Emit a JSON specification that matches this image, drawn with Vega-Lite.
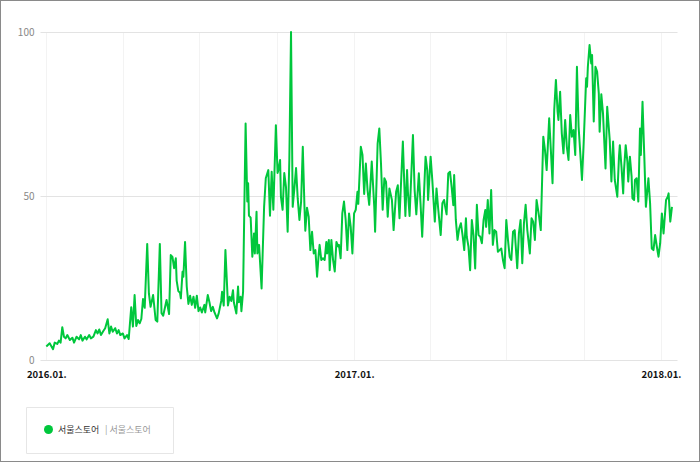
{
  "$schema": "https://vega.github.io/schema/vega-lite/v6.json",
  "width": 700,
  "height": 462,
  "autosize": {"type": "none"},
  "padding": 0,
  "background": "#ffffff",
  "config": {
    "font": "Noto Sans CJK KR",
    "view": {"stroke": "#8a8a8a", "strokeWidth": 2}
  },
  "data": {
    "values": [
      {"date": "2016-01-01", "value": 4.1}, {"date": "2016-01-05", "value": 5.1}, {"date": "2016-01-09", "value": 3.3},
      {"date": "2016-01-11", "value": 5.3}, {"date": "2016-01-14", "value": 4.9}, {"date": "2016-01-16", "value": 5.9},
      {"date": "2016-01-18", "value": 5.3}, {"date": "2016-01-20", "value": 10}, {"date": "2016-01-22", "value": 7.1},
      {"date": "2016-01-24", "value": 6.6}, {"date": "2016-01-26", "value": 7.6}, {"date": "2016-01-29", "value": 6.1},
      {"date": "2016-02-01", "value": 6.8}, {"date": "2016-02-03", "value": 5.3}, {"date": "2016-02-06", "value": 7.1},
      {"date": "2016-02-09", "value": 6.3}, {"date": "2016-02-11", "value": 7.6}, {"date": "2016-02-13", "value": 5.9},
      {"date": "2016-02-16", "value": 7.1}, {"date": "2016-02-18", "value": 6.3}, {"date": "2016-02-21", "value": 7.6},
      {"date": "2016-02-23", "value": 6.6}, {"date": "2016-02-26", "value": 7.1}, {"date": "2016-02-29", "value": 9.1},
      {"date": "2016-03-02", "value": 8.1}, {"date": "2016-03-04", "value": 9.3}, {"date": "2016-03-06", "value": 7.6},
      {"date": "2016-03-09", "value": 8.9}, {"date": "2016-03-11", "value": 9.7}, {"date": "2016-03-14", "value": 12.4},
      {"date": "2016-03-16", "value": 8.1}, {"date": "2016-03-18", "value": 10.2}, {"date": "2016-03-20", "value": 8.6},
      {"date": "2016-03-23", "value": 9.7}, {"date": "2016-03-25", "value": 8.1}, {"date": "2016-03-27", "value": 9.1},
      {"date": "2016-03-29", "value": 7.6}, {"date": "2016-04-01", "value": 8.1}, {"date": "2016-04-03", "value": 6.6},
      {"date": "2016-04-06", "value": 7.6}, {"date": "2016-04-08", "value": 6.4}, {"date": "2016-04-11", "value": 16.1},
      {"date": "2016-04-13", "value": 10.2}, {"date": "2016-04-15", "value": 19.8}, {"date": "2016-04-17", "value": 10.4},
      {"date": "2016-04-19", "value": 12.2}, {"date": "2016-04-21", "value": 11.2}, {"date": "2016-04-23", "value": 12.5},
      {"date": "2016-04-25", "value": 18.6}, {"date": "2016-04-27", "value": 15.9}, {"date": "2016-04-30", "value": 35.4},
      {"date": "2016-05-02", "value": 20.3}, {"date": "2016-05-04", "value": 16.2}, {"date": "2016-05-07", "value": 19.8},
      {"date": "2016-05-08", "value": 17.3}, {"date": "2016-05-10", "value": 12.2}, {"date": "2016-05-12", "value": 11.7},
      {"date": "2016-05-15", "value": 35.4}, {"date": "2016-05-17", "value": 14.3}, {"date": "2016-05-19", "value": 13.5},
      {"date": "2016-05-23", "value": 18.3}, {"date": "2016-05-26", "value": 14}, {"date": "2016-05-28", "value": 32},
      {"date": "2016-05-30", "value": 31.4}, {"date": "2016-06-01", "value": 28}, {"date": "2016-06-03", "value": 31},
      {"date": "2016-06-04", "value": 24.2}, {"date": "2016-06-06", "value": 21}, {"date": "2016-06-08", "value": 20.5},
      {"date": "2016-06-09", "value": 18.8}, {"date": "2016-06-11", "value": 26.9}, {"date": "2016-06-12", "value": 25.4},
      {"date": "2016-06-14", "value": 36}, {"date": "2016-06-16", "value": 22.4}, {"date": "2016-06-18", "value": 17.1},
      {"date": "2016-06-20", "value": 19.6}, {"date": "2016-06-22", "value": 16.8}, {"date": "2016-06-24", "value": 19.3},
      {"date": "2016-06-26", "value": 15.9}, {"date": "2016-06-28", "value": 19.6}, {"date": "2016-06-30", "value": 14.9},
      {"date": "2016-07-02", "value": 16}, {"date": "2016-07-04", "value": 14.5}, {"date": "2016-07-07", "value": 16.8},
      {"date": "2016-07-08", "value": 14.5}, {"date": "2016-07-11", "value": 19.8}, {"date": "2016-07-13", "value": 17.6},
      {"date": "2016-07-15", "value": 14.9}, {"date": "2016-07-17", "value": 16.2}, {"date": "2016-07-19", "value": 14.5},
      {"date": "2016-07-22", "value": 12.7}, {"date": "2016-07-24", "value": 14.2}, {"date": "2016-07-27", "value": 18},
      {"date": "2016-07-28", "value": 20.8}, {"date": "2016-07-30", "value": 16.6}, {"date": "2016-08-01", "value": 33.5},
      {"date": "2016-08-03", "value": 22.4}, {"date": "2016-08-04", "value": 16.6}, {"date": "2016-08-06", "value": 19.3},
      {"date": "2016-08-08", "value": 18}, {"date": "2016-08-10", "value": 21.3}, {"date": "2016-08-11", "value": 17.6},
      {"date": "2016-08-14", "value": 14.2}, {"date": "2016-08-16", "value": 22.4}, {"date": "2016-08-17", "value": 17.6},
      {"date": "2016-08-19", "value": 19.3}, {"date": "2016-08-20", "value": 14.9}, {"date": "2016-08-22", "value": 20.8},
      {"date": "2016-08-25", "value": 72.1}, {"date": "2016-08-27", "value": 48.3}, {"date": "2016-08-28", "value": 53.9},
      {"date": "2016-08-29", "value": 44}, {"date": "2016-08-31", "value": 43.4}, {"date": "2016-09-02", "value": 31.5},
      {"date": "2016-09-04", "value": 38.6}, {"date": "2016-09-05", "value": 32.5}, {"date": "2016-09-07", "value": 45.2},
      {"date": "2016-09-08", "value": 32.5}, {"date": "2016-09-10", "value": 35.1}, {"date": "2016-09-13", "value": 21.8},
      {"date": "2016-09-16", "value": 46.7}, {"date": "2016-09-18", "value": 55.4}, {"date": "2016-09-21", "value": 57.9},
      {"date": "2016-09-23", "value": 44}, {"date": "2016-09-25", "value": 57.4}, {"date": "2016-09-27", "value": 45.8},
      {"date": "2016-09-30", "value": 71.6}, {"date": "2016-10-02", "value": 57}, {"date": "2016-10-03", "value": 57.9},
      {"date": "2016-10-05", "value": 61}, {"date": "2016-10-06", "value": 49.8}, {"date": "2016-10-08", "value": 45.8},
      {"date": "2016-10-10", "value": 57}, {"date": "2016-10-12", "value": 52.8}, {"date": "2016-10-14", "value": 39.1},
      {"date": "2016-10-16", "value": 61}, {"date": "2016-10-18", "value": 100}, {"date": "2016-10-20", "value": 46.7},
      {"date": "2016-10-22", "value": 52.3}, {"date": "2016-10-24", "value": 58.5}, {"date": "2016-10-26", "value": 49.1},
      {"date": "2016-10-28", "value": 42.7}, {"date": "2016-10-30", "value": 48.3}, {"date": "2016-11-01", "value": 65},
      {"date": "2016-11-03", "value": 46.7}, {"date": "2016-11-04", "value": 39.4}, {"date": "2016-11-06", "value": 46.4},
      {"date": "2016-11-08", "value": 43.7}, {"date": "2016-11-10", "value": 33.5}, {"date": "2016-11-12", "value": 39.1},
      {"date": "2016-11-14", "value": 32.5}, {"date": "2016-11-16", "value": 33.5}, {"date": "2016-11-18", "value": 25.4},
      {"date": "2016-11-20", "value": 32.5}, {"date": "2016-11-21", "value": 35.1}, {"date": "2016-11-23", "value": 30.5},
      {"date": "2016-11-25", "value": 31}, {"date": "2016-11-27", "value": 30.5}, {"date": "2016-11-29", "value": 36},
      {"date": "2016-11-30", "value": 32.5}, {"date": "2016-12-02", "value": 36.6}, {"date": "2016-12-03", "value": 27.4},
      {"date": "2016-12-05", "value": 36.6}, {"date": "2016-12-07", "value": 30.5}, {"date": "2016-12-09", "value": 27},
      {"date": "2016-12-11", "value": 36}, {"date": "2016-12-13", "value": 34.6}, {"date": "2016-12-14", "value": 35.1},
      {"date": "2016-12-16", "value": 31}, {"date": "2016-12-18", "value": 44.7}, {"date": "2016-12-20", "value": 48.3},
      {"date": "2016-12-22", "value": 42.7}, {"date": "2016-12-24", "value": 33.5}, {"date": "2016-12-26", "value": 44.7},
      {"date": "2016-12-28", "value": 40.6}, {"date": "2016-12-30", "value": 32.5}, {"date": "2017-01-01", "value": 44.7},
      {"date": "2017-01-03", "value": 45.8}, {"date": "2017-01-05", "value": 51.3}, {"date": "2017-01-06", "value": 47.6},
      {"date": "2017-01-09", "value": 65}, {"date": "2017-01-11", "value": 62.5}, {"date": "2017-01-13", "value": 50.6},
      {"date": "2017-01-15", "value": 59.9}, {"date": "2017-01-17", "value": 51.8}, {"date": "2017-01-19", "value": 47.3},
      {"date": "2017-01-21", "value": 56}, {"date": "2017-01-22", "value": 60.5}, {"date": "2017-01-25", "value": 46.7},
      {"date": "2017-01-26", "value": 39.1}, {"date": "2017-01-29", "value": 66}, {"date": "2017-01-31", "value": 70.6},
      {"date": "2017-02-02", "value": 59.9}, {"date": "2017-02-04", "value": 45.8}, {"date": "2017-02-06", "value": 55.4},
      {"date": "2017-02-08", "value": 54.3}, {"date": "2017-02-10", "value": 43.7}, {"date": "2017-02-12", "value": 52.3},
      {"date": "2017-02-15", "value": 48.8}, {"date": "2017-02-17", "value": 39.6}, {"date": "2017-02-20", "value": 51.3},
      {"date": "2017-02-22", "value": 53.3}, {"date": "2017-02-24", "value": 43.2}, {"date": "2017-02-28", "value": 66.6},
      {"date": "2017-03-03", "value": 43.9}, {"date": "2017-03-05", "value": 57.9}, {"date": "2017-03-06", "value": 51.3},
      {"date": "2017-03-08", "value": 43.9}, {"date": "2017-03-12", "value": 68.6}, {"date": "2017-03-14", "value": 51.8},
      {"date": "2017-03-16", "value": 44.4}, {"date": "2017-03-19", "value": 56.9}, {"date": "2017-03-21", "value": 47.8},
      {"date": "2017-03-23", "value": 37.6}, {"date": "2017-03-27", "value": 62}, {"date": "2017-03-29", "value": 57.9},
      {"date": "2017-03-30", "value": 48.8}, {"date": "2017-04-02", "value": 62}, {"date": "2017-04-04", "value": 54.9},
      {"date": "2017-04-07", "value": 42.2}, {"date": "2017-04-09", "value": 52.3}, {"date": "2017-04-11", "value": 46.2},
      {"date": "2017-04-14", "value": 38.1}, {"date": "2017-04-16", "value": 47.8}, {"date": "2017-04-18", "value": 48.8},
      {"date": "2017-04-19", "value": 47.2}, {"date": "2017-04-21", "value": 44.4}, {"date": "2017-04-23", "value": 56.9},
      {"date": "2017-04-25", "value": 57.4}, {"date": "2017-04-27", "value": 52.8}, {"date": "2017-04-29", "value": 47.2},
      {"date": "2017-04-30", "value": 56.4}, {"date": "2017-05-02", "value": 42.7}, {"date": "2017-05-04", "value": 36.6},
      {"date": "2017-05-06", "value": 40.1}, {"date": "2017-05-08", "value": 41.7}, {"date": "2017-05-10", "value": 38.1},
      {"date": "2017-05-12", "value": 33.5}, {"date": "2017-05-14", "value": 43.2}, {"date": "2017-05-15", "value": 37.6},
      {"date": "2017-05-17", "value": 34.6}, {"date": "2017-05-19", "value": 27.4}, {"date": "2017-05-21", "value": 42.7},
      {"date": "2017-05-23", "value": 38.1}, {"date": "2017-05-25", "value": 27.9}, {"date": "2017-05-27", "value": 47.3},
      {"date": "2017-05-29", "value": 38.1}, {"date": "2017-05-31", "value": 37.6}, {"date": "2017-06-02", "value": 35.6},
      {"date": "2017-06-04", "value": 42.7}, {"date": "2017-06-06", "value": 45.7}, {"date": "2017-06-07", "value": 40.6},
      {"date": "2017-06-09", "value": 48.8}, {"date": "2017-06-11", "value": 38.6}, {"date": "2017-06-13", "value": 51.8},
      {"date": "2017-06-15", "value": 35.1}, {"date": "2017-06-17", "value": 39.6}, {"date": "2017-06-19", "value": 39.1},
      {"date": "2017-06-21", "value": 33}, {"date": "2017-06-23", "value": 33.5}, {"date": "2017-06-25", "value": 34},
      {"date": "2017-06-27", "value": 30.5}, {"date": "2017-06-29", "value": 28}, {"date": "2017-07-01", "value": 42.7},
      {"date": "2017-07-03", "value": 36.6}, {"date": "2017-07-05", "value": 31.5}, {"date": "2017-07-07", "value": 30.5},
      {"date": "2017-07-09", "value": 39.1}, {"date": "2017-07-11", "value": 39.6}, {"date": "2017-07-12", "value": 35.6},
      {"date": "2017-07-14", "value": 28}, {"date": "2017-07-16", "value": 38.6}, {"date": "2017-07-18", "value": 42.7},
      {"date": "2017-07-20", "value": 29.5}, {"date": "2017-07-22", "value": 41.7}, {"date": "2017-07-24", "value": 47.3},
      {"date": "2017-07-26", "value": 39.6}, {"date": "2017-07-29", "value": 32.5}, {"date": "2017-07-31", "value": 43.2},
      {"date": "2017-08-02", "value": 42.2}, {"date": "2017-08-04", "value": 36.6}, {"date": "2017-08-06", "value": 48.8},
      {"date": "2017-08-09", "value": 43.7}, {"date": "2017-08-11", "value": 39.6}, {"date": "2017-08-14", "value": 68.1},
      {"date": "2017-08-16", "value": 64}, {"date": "2017-08-18", "value": 57.9}, {"date": "2017-08-21", "value": 73.7},
      {"date": "2017-08-23", "value": 64}, {"date": "2017-08-25", "value": 53.9}, {"date": "2017-08-27", "value": 76.2},
      {"date": "2017-08-29", "value": 85.4}, {"date": "2017-08-31", "value": 75.7}, {"date": "2017-09-01", "value": 73.2},
      {"date": "2017-09-03", "value": 81.8}, {"date": "2017-09-05", "value": 69.1}, {"date": "2017-09-07", "value": 63},
      {"date": "2017-09-09", "value": 73.2}, {"date": "2017-09-11", "value": 65}, {"date": "2017-09-13", "value": 61},
      {"date": "2017-09-15", "value": 74.7}, {"date": "2017-09-17", "value": 68.1}, {"date": "2017-09-19", "value": 70.1},
      {"date": "2017-09-21", "value": 62.5}, {"date": "2017-09-23", "value": 89.4}, {"date": "2017-09-25", "value": 71.1},
      {"date": "2017-09-29", "value": 54.9}, {"date": "2017-10-01", "value": 66.1}, {"date": "2017-10-04", "value": 85.9},
      {"date": "2017-10-05", "value": 83.3}, {"date": "2017-10-06", "value": 89.4}, {"date": "2017-10-08", "value": 96},
      {"date": "2017-10-10", "value": 90.4}, {"date": "2017-10-11", "value": 93}, {"date": "2017-10-13", "value": 72.7},
      {"date": "2017-10-15", "value": 89.4}, {"date": "2017-10-17", "value": 87.9}, {"date": "2017-10-19", "value": 81.3},
      {"date": "2017-10-20", "value": 69.6}, {"date": "2017-10-22", "value": 81}, {"date": "2017-10-24", "value": 75.2},
      {"date": "2017-10-27", "value": 58.4}, {"date": "2017-10-29", "value": 77.2}, {"date": "2017-11-01", "value": 67.1},
      {"date": "2017-11-03", "value": 54.4}, {"date": "2017-11-05", "value": 66.6}, {"date": "2017-11-07", "value": 54.9},
      {"date": "2017-11-10", "value": 49.8}, {"date": "2017-11-12", "value": 62}, {"date": "2017-11-13", "value": 65.5},
      {"date": "2017-11-15", "value": 58.9}, {"date": "2017-11-17", "value": 50.8}, {"date": "2017-11-18", "value": 57.9},
      {"date": "2017-11-20", "value": 65.5}, {"date": "2017-11-22", "value": 60.5}, {"date": "2017-11-23", "value": 54.4},
      {"date": "2017-11-25", "value": 62}, {"date": "2017-11-27", "value": 56}, {"date": "2017-11-28", "value": 49.3},
      {"date": "2017-11-30", "value": 48.8}, {"date": "2017-12-01", "value": 54.9}, {"date": "2017-12-03", "value": 55.4},
      {"date": "2017-12-05", "value": 48.3}, {"date": "2017-12-07", "value": 70.6}, {"date": "2017-12-08", "value": 62.5},
      {"date": "2017-12-10", "value": 78.7}, {"date": "2017-12-12", "value": 63}, {"date": "2017-12-14", "value": 46.7},
      {"date": "2017-12-17", "value": 55.4}, {"date": "2017-12-19", "value": 47.8}, {"date": "2017-12-21", "value": 34},
      {"date": "2017-12-23", "value": 33.5}, {"date": "2017-12-25", "value": 38.1}, {"date": "2017-12-27", "value": 34.6},
      {"date": "2017-12-29", "value": 31.5}, {"date": "2017-12-31", "value": 35.6}, {"date": "2018-01-02", "value": 44.7},
      {"date": "2018-01-04", "value": 38.6}, {"date": "2018-01-07", "value": 48.8}, {"date": "2018-01-09", "value": 49.8},
      {"date": "2018-01-10", "value": 50.8}, {"date": "2018-01-12", "value": 42.2}, {"date": "2018-01-14", "value": 46.7}
    ]
  },
  "mark": {"type": "line", "strokeWidth": 2, "strokeJoin": "round"},
  "encoding": {
    "x": {
      "field": "date",
      "type": "temporal",
      "scale": {
        "type": "utc",
        "domain": [
          {"year": 2015, "month": 12, "date": 24, "hours": 12, "utc": true},
          {"year": 2018, "month": 1, "date": 20, "utc": true}
        ],
        "range": [40, 677]
      },
      "axis": {
        "title": null,
        "orient": "top",
        "offset": -360,
        "tickCount": {"interval": "month", "step": 3},
        "labelExpr": "utcmonth(datum.value) === 0 ? utcFormat(datum.value, '%Y.%m.') : ''",
        "labelOverlap": false,
        "labelFlush": false,
        "labelPadding": -9,
        "labelBaseline": "top",
        "labelFontSize": 9.5,
        "labelFontWeight": "bold",
        "labelColor": "#111111",
        "ticks": false,
        "domain": false,
        "grid": true,
        "gridColor": "#f3f3f3"
      }
    },
    "y": {
      "field": "value",
      "type": "quantitative",
      "scale": {"domain": [0, 100], "range": [360, 32], "nice": false, "zero": true},
      "axis": {
        "title": null,
        "orient": "left",
        "offset": -40,
        "values": [0, 50, 100],
        "ticks": false,
        "domain": false,
        "grid": true,
        "gridColor": "#e3e3e3",
        "labelColor": "#888888",
        "labelFontSize": 10,
        "labelPadding": 6
      }
    },
    "color": {
      "datum": "서울스토어",
      "scale": {"range": ["#00c73c"]},
      "legend": {
        "orient": "none",
        "legendX": 26,
        "legendY": 407,
        "direction": "horizontal",
        "title": "|   서울스토어",
        "titleOrient": "right",
        "titlePadding": 6,
        "titleColor": "#999999",
        "titleFontWeight": "normal",
        "titleFontSize": 9,
        "labelColor": "#333333",
        "labelFontSize": 9,
        "labelOffset": 5,
        "symbolType": "circle",
        "symbolSize": 81,
        "padding": 18,
        "strokeColor": "#e6e6e6",
        "fillColor": "#ffffff",
        "encode": {
          "symbols": {"update": {"fill": {"value": "#00c73c"}, "stroke": {"value": "#00c73c"}, "strokeWidth": {"value": 0}}}
        }
      }
    }
  }
}
